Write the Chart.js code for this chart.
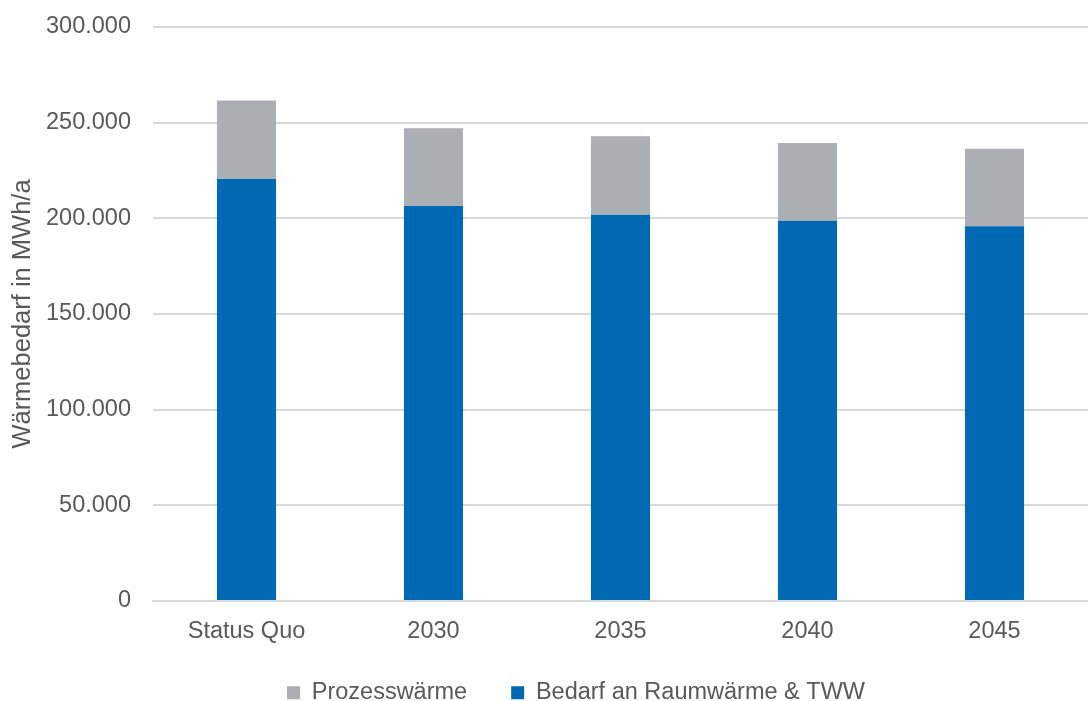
<!DOCTYPE html>
<html>
<head>
<meta charset="utf-8">
<script src="https://cdn.jsdelivr.net/npm/chart.js@4"></script>
<style>
  html, body { margin: 0; padding: 0; background: #ffffff; }
  #wrap { width: 1088px; height: 701px; }
</style>
</head>
<body>
<div id="wrap"><canvas id="chart" width="1088" height="701"></canvas></div>
<script>
// values (MWh/a)
var categories = ['Status Quo', '2030', '2035', '2040', '2045'];
var raumwaerme = [220600, 206400, 201900, 198800, 195800];
var prozesswaerme = [41000, 40700, 41000, 40600, 40600];
var yTicks = [0, 50000, 100000, 150000, 200000, 250000, 300000];

var textColor = '#595959';
var gridColor = '#d9d9d9';

function formatDE(v) {
    return String(v).replace(/\B(?=(\d{3})+(?!\d))/g, '.');
}

Chart.defaults.font.family = '"Liberation Sans", Arial, sans-serif';
Chart.defaults.font.size = 23.5;
Chart.defaults.color = textColor;

// legend: wide gap between items but a short box, centred under axis + plot
var legendPlace = {
    id: 'legendPlace',
    afterInit: function (chart) {
        var legend = chart.legend;
        var fit = legend.fit;
        legend.fit = function () {
            fit.apply(this, arguments);
            this.height = 56;
        };
    },
    afterLayout: function (chart) {
        chart.legend.top -= 8;
        chart.legend.left = 64;
    }
};

new Chart(document.getElementById('chart'), {
    type: 'bar',
    data: {
        labels: categories,
        datasets: [
            {
                label: 'Bedarf an Raumwärme & TWW',
                data: raumwaerme,
                backgroundColor: '#0069b4',
                barPercentage: 0.316,
                categoryPercentage: 1
            },
            {
                label: 'Prozesswärme',
                data: prozesswaerme,
                backgroundColor: '#abafb3',
                barPercentage: 0.316,
                categoryPercentage: 1
            }
        ]
    },
    plugins: [legendPlace],
    options: {
        responsive: false,
        animation: false,
        layout: { padding: { top: 0, right: 0, left: 8, bottom: 0 } },
        scales: {
            x: {
                stacked: true,
                grid: { display: false, drawTicks: false },
                border: { color: gridColor, width: 2 },
                ticks: { padding: 16, color: textColor },
                afterFit: function (scale) { scale.height = 44; }
            },
            y: {
                stacked: true,
                min: 0,
                max: 300000,
                afterBuildTicks: function (axis) {
                    axis.ticks = yTicks.map(function (v) { return { value: v }; });
                },
                afterFit: function (scale) {
                    scale.width = 145;
                    scale.paddingTop = 27;
                },
                grid: { color: gridColor, lineWidth: 2, drawTicks: false },
                border: { display: false },
                ticks: {
                    padding: 22,
                    color: textColor,
                    callback: function (v) { return formatDE(v); }
                },
                title: {
                    display: true,
                    text: 'Wärmebedarf in MWh/a',
                    color: textColor,
                    font: { size: 25.5 },
                    padding: { top: 0, bottom: 6 }
                }
            }
        },
        plugins: {
            legend: {
                position: 'bottom',
                reverse: true,
                labels: {
                    boxWidth: 13,
                    boxHeight: 13,
                    padding: 44,
                    color: textColor
                }
            },
            tooltip: { enabled: false }
        }
    }
});
</script>
</body>
</html>
